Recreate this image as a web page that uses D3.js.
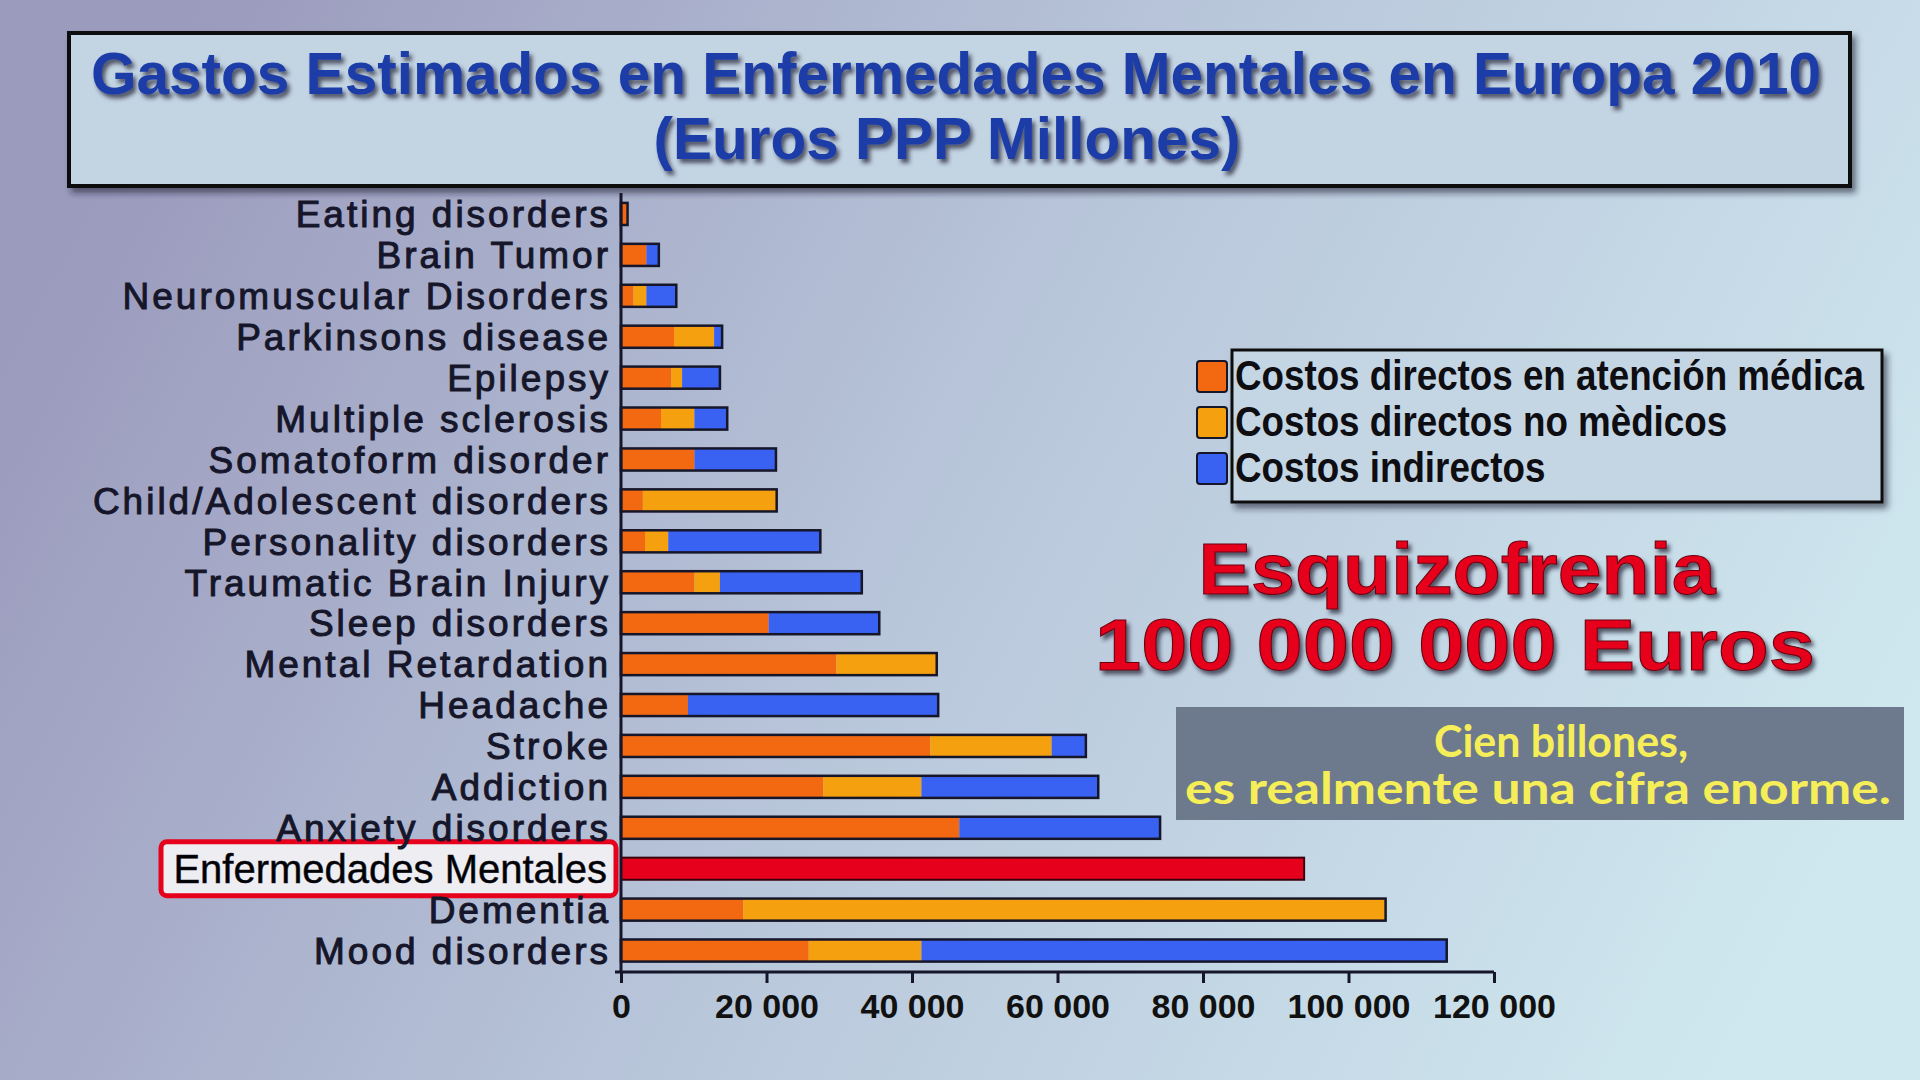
<!DOCTYPE html>
<html lang="es">
<head>
<meta charset="UTF-8">
<title>Gastos Estimados en Enfermedades Mentales en Europa 2010</title>
<script src="https://d3js.org/d3.v7.min.js"></script>
<style>
    body { margin: 0; overflow: hidden; }
    svg { display: block; }
</style>
</head>
<body>
<script>
    // Datos (millones de euros PPP)
    const categories = [
        "Eating disorders", "Brain Tumor", "Neuromuscular Disorders", "Parkinsons disease",
        "Epilepsy", "Multiple sclerosis", "Somatoform disorder", "Child/Adolescent disorders",
        "Personality disorders", "Traumatic Brain Injury", "Sleep disorders", "Mental Retardation",
        "Headache", "Stroke", "Addiction", "Anxiety disorders", "Enfermedades Mentales",
        "Dementia", "Mood disorders"
    ];
    const directMedical    = [900, 3500, 1700, 7300, 6900, 5500, 10100, 3000, 3300, 10100, 20300, 29600, 9200, 42500, 27800, 46500, 0, 16800, 25800];
    const directNonMedical = [0, 0, 1800, 5500, 1500, 4600, 0, 18400, 3200, 3500, 0, 13800, 0, 16700, 13500, 0, 0, 88300, 15500];
    const indirect         = [0, 1700, 4100, 1100, 5200, 4500, 11200, 0, 20900, 19500, 15200, 0, 34400, 4700, 24300, 27600, 0, 0, 72200];
    const highlightTotal   = [0, 0, 0, 0, 0, 0, 0, 0, 0, 0, 0, 0, 0, 0, 0, 0, 93900, 0, 0];
    const seriesNames = ["Costos directos en atención médica", "Costos directos no mèdicos", "Costos indirectos"];
    const xTicks = [0, 20000, 40000, 60000, 80000, 100000, 120000];
    const highlightLabel = "Enfermedades Mentales";

    const w = 1920, h = 1080;
    const colors = ["#f26912", "#f5a00f", "#3a62f2"];
    const red = "#e6001b";
    const ink = "#16162a";

    const svg = d3.select("body").append("svg")
        .attr("width", w).attr("height", h);

    const defs = svg.append("defs");
    const bg = defs.append("linearGradient").attr("id", "bg")
        .attr("x1", 0).attr("y1", 0.35).attr("x2", 1).attr("y2", 0.65);
    bg.append("stop").attr("offset", 0).attr("stop-color", "#9b9bbd");
    bg.append("stop").attr("offset", 0.5).attr("stop-color", "#b9c7db");
    bg.append("stop").attr("offset", 1).attr("stop-color", "#cfe8ef");

    const shadow = defs.append("filter").attr("id", "shadow")
        .attr("x", "-5%").attr("y", "-20%").attr("width", "115%").attr("height", "150%");
    shadow.append("feDropShadow").attr("dx", 4).attr("dy", 5).attr("stdDeviation", 3)
        .attr("flood-color", "#202030").attr("flood-opacity", 0.6);
    const tshadow = defs.append("filter").attr("id", "tshadow")
        .attr("x", "-5%").attr("y", "-20%").attr("width", "115%").attr("height", "150%");
    tshadow.append("feDropShadow").attr("dx", 3).attr("dy", 4).attr("stdDeviation", 2)
        .attr("flood-color", "#2a2a3a").attr("flood-opacity", 0.75);

    // texto estrecho: comprime el ancho natural (no hay fuente "narrow" instalada)
    function narrow(sel, k) {
        sel.each(function() {
            const len = this.getComputedTextLength();
            d3.select(this).attr("textLength", len * k).attr("lengthAdjust", "spacingAndGlyphs");
        });
    }

    svg.append("rect").attr("width", w).attr("height", h).attr("fill", "url(#bg)");

    // Caja del titulo
    svg.append("rect")
        .attr("x", 69).attr("y", 33).attr("width", 1781).attr("height", 153)
        .attr("fill", "#c3d4e3").attr("stroke", "#111").attr("stroke-width", 4)
        .attr("filter", "url(#shadow)");
    const titleG = svg.append("g")
        .style("font-family", "'Liberation Sans', Arial, sans-serif")
        .style("font-weight", "bold")
        .attr("fill", "#1c3ea8")
        .attr("filter", "url(#tshadow)");
    titleG.append("text")
        .attr("x", 956).attr("y", 94)
        .attr("text-anchor", "middle")
        .attr("textLength", 1730).attr("lengthAdjust", "spacingAndGlyphs")
        .style("font-size", "60px")
        .text("Gastos Estimados en Enfermedades Mentales en Europa 2010");
    titleG.append("text")
        .attr("x", 947).attr("y", 159)
        .attr("text-anchor", "middle")
        .attr("textLength", 587).attr("lengthAdjust", "spacingAndGlyphs")
        .style("font-size", "60px")
        .text("(Euros PPP Millones)");

    // Escalas
    const x = d3.scaleLinear().domain([0, 120000]).range([621, 1494]);
    const y = d3.scaleBand().domain(categories).range([193.5, 971])
        .paddingInner(0.46).paddingOuter(0.23);

    // Caja de la etiqueta destacada
    svg.append("rect")
        .attr("x", 161).attr("y", y(highlightLabel) + y.bandwidth() / 2 - 27)
        .attr("width", 455).attr("height", 54).attr("rx", 6)
        .attr("fill", "#eeeef2").attr("stroke", red).attr("stroke-width", 5);

    // Barras apiladas
    const rows = categories.map((c, i) => ({
        cat: c, s0: directMedical[i], s1: directNonMedical[i], s2: indirect[i]
    }));
    const stack = d3.stack().keys(["s0", "s1", "s2"])(rows);

    svg.append("g").selectAll("g")
        .data(stack)
        .join("g")
        .attr("fill", (d, i) => colors[i])
        .selectAll("rect")
        .data(d => d)
        .join("rect")
        .attr("x", d => x(d[0]))
        .attr("y", d => y(d.data.cat))
        .attr("width", d => x(d[1]) - x(d[0]))
        .attr("height", y.bandwidth());

    // Contorno de cada barra
    svg.append("g").selectAll("rect")
        .data(rows.filter(r => r.s0 + r.s1 + r.s2 > 0))
        .join("rect")
        .attr("x", x(0))
        .attr("y", d => y(d.cat))
        .attr("width", d => x(d.s0 + d.s1 + d.s2) - x(0))
        .attr("height", y.bandwidth())
        .attr("fill", "none")
        .attr("stroke", ink).attr("stroke-width", 2.5);

    // Barra roja destacada
    svg.append("g").selectAll("rect")
        .data(categories.filter((c, i) => highlightTotal[i] > 0))
        .join("rect")
        .attr("x", x(0))
        .attr("y", d => y(d))
        .attr("width", d => x(highlightTotal[categories.indexOf(d)]) - x(0))
        .attr("height", y.bandwidth())
        .attr("fill", red)
        .attr("stroke", "#3a0010").attr("stroke-width", 2);

    // Eje Y
    const yAxis = svg.append("g")
        .attr("transform", `translate(${x(0)},0)`)
        .call(d3.axisLeft(y).tickSize(0).tickPadding(10));
    yAxis.select(".domain").remove();
    yAxis.append("line")
        .attr("x1", 0).attr("x2", 0).attr("y1", 193).attr("y2", 972)
        .attr("stroke", ink).attr("stroke-width", 3);
    yAxis.selectAll(".tick text")
        .attr("fill", ink)
        .attr("dy", "0.36em")
        .style("font-family", "'Liberation Sans', Arial, sans-serif")
        .style("font-size", "37px")
        .style("letter-spacing", "3px")
        .style("stroke", ink).style("stroke-width", "1px");
    yAxis.selectAll(".tick text")
        .filter(d => d === highlightLabel)
        .attr("x", -14)
        .style("font-size", "40px")
        .style("letter-spacing", "0px")
        .style("stroke-width", "0.5px")
        .attr("fill", "#000");

    // Eje X
    const xAxis = svg.append("g")
        .attr("transform", "translate(0,972)")
        .call(d3.axisBottom(x).tickValues(xTicks).tickSize(11).tickSizeOuter(0).tickPadding(11)
            .tickFormat(d => d3.format(",")(d).replace(/,/g, " ")));
    xAxis.select(".domain").attr("stroke", ink).attr("stroke-width", 3)
        .attr("d", `M${x(0) - 6},0H${x(120000)}`);
    xAxis.selectAll(".tick line").attr("stroke", ink).attr("stroke-width", 3);
    xAxis.selectAll(".tick text")
        .attr("fill", "#111")
        .style("font-family", "'Liberation Sans', Arial, sans-serif")
        .style("font-weight", "bold")
        .style("font-size", "34px");

    // Leyenda
    svg.append("rect")
        .attr("x", 1232).attr("y", 350).attr("width", 650).attr("height", 152)
        .attr("fill", "#c4d6e4").attr("stroke", "#111").attr("stroke-width", 3)
        .attr("filter", "url(#shadow)");
    const legend = svg.append("g").selectAll("g")
        .data(seriesNames)
        .join("g")
        .attr("transform", (d, i) => `translate(1197,${361 + i * 46})`);
    legend.append("rect")
        .attr("width", 30).attr("height", 31).attr("rx", 3)
        .attr("fill", (d, i) => colors[i])
        .attr("stroke", ink).attr("stroke-width", 2);
    legend.append("text")
        .attr("x", 38).attr("y", 29)
        .attr("fill", "#0d0d12")
        .style("font-family", "'Liberation Sans', Arial, sans-serif")
        .style("font-weight", "bold")
        .style("font-size", "42px")
        .text(d => d)
        .call(narrow, 0.875);

    // Texto de esquizofrenia
    const redG = svg.append("g")
        .style("font-family", "'Liberation Sans', Arial, sans-serif")
        .style("font-weight", "bold")
        .attr("fill", red)
        .attr("stroke", "#6a0010").attr("stroke-width", 1)
        .attr("filter", "url(#tshadow)");
    redG.append("text")
        .attr("x", 1457).attr("y", 594)
        .attr("text-anchor", "middle")
        .attr("textLength", 517).attr("lengthAdjust", "spacingAndGlyphs")
        .style("font-size", "72px")
        .text("Esquizofrenia");
    redG.append("text")
        .attr("x", 1455).attr("y", 670)
        .attr("text-anchor", "middle")
        .attr("textLength", 720).attr("lengthAdjust", "spacingAndGlyphs")
        .style("font-size", "73px")
        .text("100 000 000 Euros");

    // Subtitulo en caja gris
    svg.append("rect")
        .attr("x", 1176).attr("y", 707).attr("width", 728).attr("height", 113)
        .attr("fill", "#6d7a8d");
    const sub = svg.append("g")
        .style("font-family", "Lato, 'Open Sans', sans-serif")
        .style("font-weight", "bold")
        .attr("fill", "#f6ee58");
    sub.append("text")
        .attr("x", 1561).attr("y", 757)
        .attr("text-anchor", "middle")
        .attr("textLength", 254).attr("lengthAdjust", "spacingAndGlyphs")
        .style("font-size", "43px")
        .text("Cien billones,");
    sub.append("text")
        .attr("x", 1538).attr("y", 804)
        .attr("text-anchor", "middle")
        .attr("textLength", 706).attr("lengthAdjust", "spacingAndGlyphs")
        .style("font-size", "43px")
        .text("es realmente una cifra enorme.");
</script>
</body>
</html>
